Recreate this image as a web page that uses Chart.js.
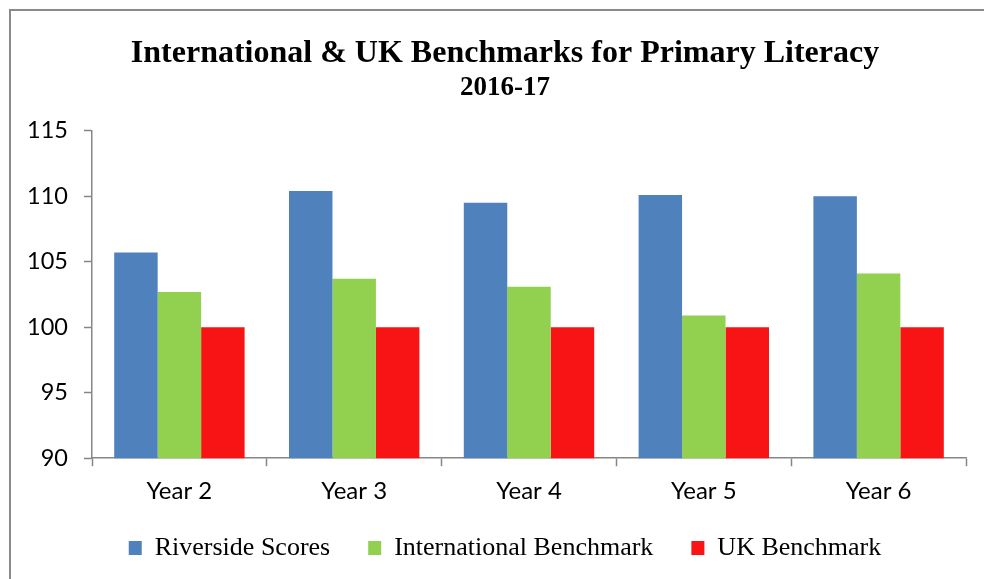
<!DOCTYPE html>
<html>
<head>
<meta charset="utf-8">
<script src="https://cdn.jsdelivr.net/npm/chart.js@4.4.0/dist/chart.umd.min.js"></script>
<style>
    html, body { margin: 0; padding: 0; background: #fff; overflow: hidden; }
    #wrap { position: relative; width: 984px; height: 579px; }
    #frame { position: absolute; left: 9px; top: 9px; width: 1000px; height: 600px;
             border-left: 2px solid #8a8a8a; border-top: 2px solid #8a8a8a; box-sizing: border-box; }
    #chart { position: absolute; left: 0; top: 0; }
</style>
</head>
<body>
<div id="wrap">
    <div id="frame"></div>
    <canvas id="chart" width="984" height="579"></canvas>
</div>
<script>
const years = ['Year 2', 'Year 3', 'Year 4', 'Year 5', 'Year 6'];
const riversideScores = [105.7, 110.4, 109.5, 110.1, 110.0];
const internationalBenchmark = [102.7, 103.7, 103.1, 100.9, 104.1];
const ukBenchmark = [100, 100, 100, 100, 100];
const yMin = 90, yMax = 115, yStep = 5;

document.addEventListener("DOMContentLoaded", () => {
    const ctx = document.getElementById('chart').getContext('2d');
    const axisGrey = '#868686';
    const serif = '"Liberation Serif", "Times New Roman", serif';

    // scales were squeezed in afterFit, so widen their label clip boxes again
    const unclipLabels = {
        id: 'unclipLabels',
        afterLayout(chart) {
            chart.scales.y.left = 0;
            chart.scales.x.bottom = chart.height;
        }
    };

    new Chart(ctx, {
        type: 'bar',
        data: {
            labels: years,
            datasets: [
                { label: 'Riverside Scores', data: riversideScores, backgroundColor: '#4F81BD' },
                { label: 'International Benchmark', data: internationalBenchmark, backgroundColor: '#92D050' },
                { label: 'UK Benchmark', data: ukBenchmark, backgroundColor: '#F81414' }
            ]
        },
        plugins: [unclipLabels],
        options: {
            responsive: false,
            animation: false,
            layout: { padding: { left: 44, right: 18, top: 0, bottom: 8 } },
            datasets: {
                bar: { categoryPercentage: 0.746, barPercentage: 1.0, borderWidth: 0 }
            },
            scales: {
                x: {
                    grid: { display: true, drawOnChartArea: false, drawTicks: true, tickLength: 8,
                            color: axisGrey, tickColor: axisGrey, tickWidth: 1.5, offset: true },
                    border: { display: true, color: axisGrey, width: 1.5 },
                    ticks: { color: '#000', padding: 11, font: { family: 'Lato', size: 24 } },
                    afterFit: scale => { scale.height -= 20; }
                },
                y: {
                    min: yMin, max: yMax,
                    grid: { display: true, drawOnChartArea: false, drawTicks: true, tickLength: 8,
                            color: axisGrey, tickColor: axisGrey, tickWidth: 1.5 },
                    border: { display: true, color: axisGrey, width: 1.5 },
                    ticks: { stepSize: yStep, color: '#000', padding: 16, font: { family: 'Lato', size: 23.5 } },
                    afterFit: scale => { scale.width = 48; }
                }
            },
            plugins: {
                title: {
                    display: true,
                    text: 'International & UK Benchmarks for Primary Literacy',
                    color: '#000',
                    font: { family: serif, size: 32, weight: 'bold' },
                    padding: { top: 35, bottom: -2 }
                },
                subtitle: {
                    display: true,
                    text: '2016-17',
                    color: '#000',
                    font: { family: serif, size: 27, weight: 'bold' },
                    padding: { top: 0, bottom: 27 }
                },
                legend: {
                    position: 'bottom',
                    labels: {
                        color: '#000',
                        boxWidth: 13, boxHeight: 14, padding: 38,
                        font: { family: serif, size: 26 }
                    }
                },
                tooltip: { enabled: false }
            }
        }
    });
});
</script>
</body>
</html>
